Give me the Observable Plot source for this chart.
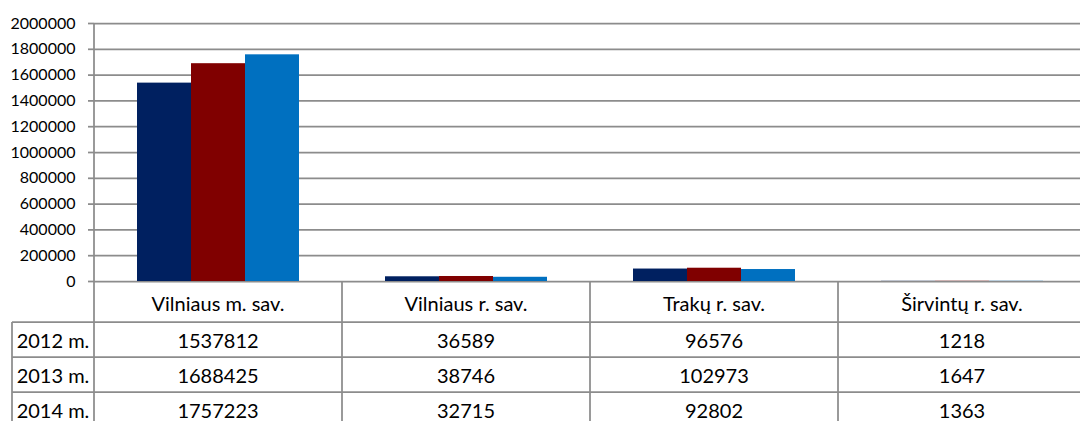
<!DOCTYPE html>
<html>
<head>
<meta charset="utf-8">
<script src="https://cdn.jsdelivr.net/npm/d3@7"></script>
<script src="https://cdn.jsdelivr.net/npm/@observablehq/plot@0.6"></script>
<style>
  html, body { margin: 0; padding: 0; background: #fff; overflow: hidden; }
  #chart { width: 1080px; height: 421px; overflow: hidden; }
  #chart svg { max-width: none !important; width: 1086px !important; height: 421px !important; }
</style>
</head>
<body>
<div id="chart"></div>
<script>
const categories = ["Vilniaus m. sav.", "Vilniaus r. sav.", "Trakų r. sav.", "Širvintų r. sav."];
const years = ["2012 m.", "2013 m.", "2014 m."];
const values2012 = [1537812, 36589, 96576, 1218];
const values2013 = [1688425, 38746, 102973, 1647];
const values2014 = [1757223, 32715, 92802, 1363];
const seriesColors = ["#002060", "#800000", "#0070C0"];
const yTicks = [0, 200000, 400000, 600000, 800000, 1000000, 1200000, 1400000, 1600000, 1800000, 2000000];

const seriesValues = [values2012, values2013, values2014];
const data = [];
categories.forEach((c, i) => {
  years.forEach((y, j) => data.push({category: c, year: y, value: seriesValues[j][i]}));
});

const lineColor = "#8c8c8c";
const fontFamily = "Lato, 'Open Sans', sans-serif";

const plot = Plot.plot({
  width: 1086,
  height: 421,
  marginLeft: 94,
  marginRight: 0,
  marginTop: 23,
  marginBottom: 140,
  style: {fontFamily, fontSize: "16px", color: "#000", background: "#fff", overflow: "visible", maxWidth: "none"},
  facet: {data, x: "category"},
  fx: {domain: categories, paddingInner: 0, paddingOuter: 0, axis: null, label: null},
  x: {domain: years, paddingInner: 0, paddingOuter: 0.755, axis: null},
  y: {domain: [0, 2000000], ticks: yTicks, tickFormat: d => String(d), tickSize: 6, tickPadding: 13, label: null},
  color: {domain: years, range: seriesColors},
  marks: [
    Plot.ruleY(yTicks, {stroke: lineColor, strokeWidth: 1.75}),
    Plot.barY(data, {x: "year", y: "value", fill: "year"})
  ]
});

document.getElementById("chart").appendChild(plot);

const svg = d3.select(plot);
// grey tick marks
svg.selectAll("g[aria-label^='y-axis'] line, g[aria-label^='y-axis'] path")
  .attr("stroke", lineColor).attr("stroke-width", 1.75);

// scales
const fxS = plot.scale("fx");
const yS = plot.scale("y");
const ys = d3.scaleLinear(yS.domain, yS.range);
const step = fxS.step ?? ((fxS.range[1] - fxS.range[0]) / categories.length);
const left = i => fxS.range[0] + i * step;
const yBase = ys(0);
const yTop = ys(yTicks[yTicks.length - 1]);
const headerH = 41, rowH = 35, tableLeft = 12, bottom = 421;
const tableRight = 1086;
const tableFont = 20;

const g = svg.append("g").attr("font-family", fontFamily).attr("fill", "#000");
const lines = g.append("g").attr("stroke", lineColor).attr("stroke-width", 1.75);

// y-axis line
lines.append("line").attr("x1", left(0)).attr("x2", left(0)).attr("y1", yTop).attr("y2", bottom);
// category separators
for (let i = 1; i < categories.length; i++) {
  lines.append("line").attr("x1", left(i)).attr("x2", left(i)).attr("y1", yBase).attr("y2", bottom);
}
// table left border
const row0 = yBase + headerH;
lines.append("line").attr("x1", tableLeft).attr("x2", tableLeft).attr("y1", row0).attr("y2", bottom);
// horizontal row lines
years.forEach((y, j) => {
  const yy = row0 + j * rowH;
  lines.append("line").attr("x1", tableLeft).attr("x2", tableRight).attr("y1", yy).attr("y2", yy);
});

// header labels
categories.forEach((c, i) => {
  g.append("text").attr("x", left(i) + step / 2).attr("y", yBase + headerH / 2 + 1)
    .attr("text-anchor", "middle").attr("dominant-baseline", "central")
    .attr("font-size", tableFont).text(c);
});
// rows
years.forEach((y, j) => {
  const cy = row0 + j * rowH + rowH / 2;
  g.append("text").attr("x", (tableLeft + left(0)) / 2).attr("y", cy)
    .attr("text-anchor", "middle").attr("dominant-baseline", "central")
    .attr("font-size", tableFont).text(y);
  categories.forEach((c, i) => {
    g.append("text").attr("x", left(i) + step / 2).attr("y", cy)
      .attr("text-anchor", "middle").attr("dominant-baseline", "central")
      .attr("font-size", tableFont).text(String(seriesValues[j][i]));
  });
});
</script>
</body>
</html>
